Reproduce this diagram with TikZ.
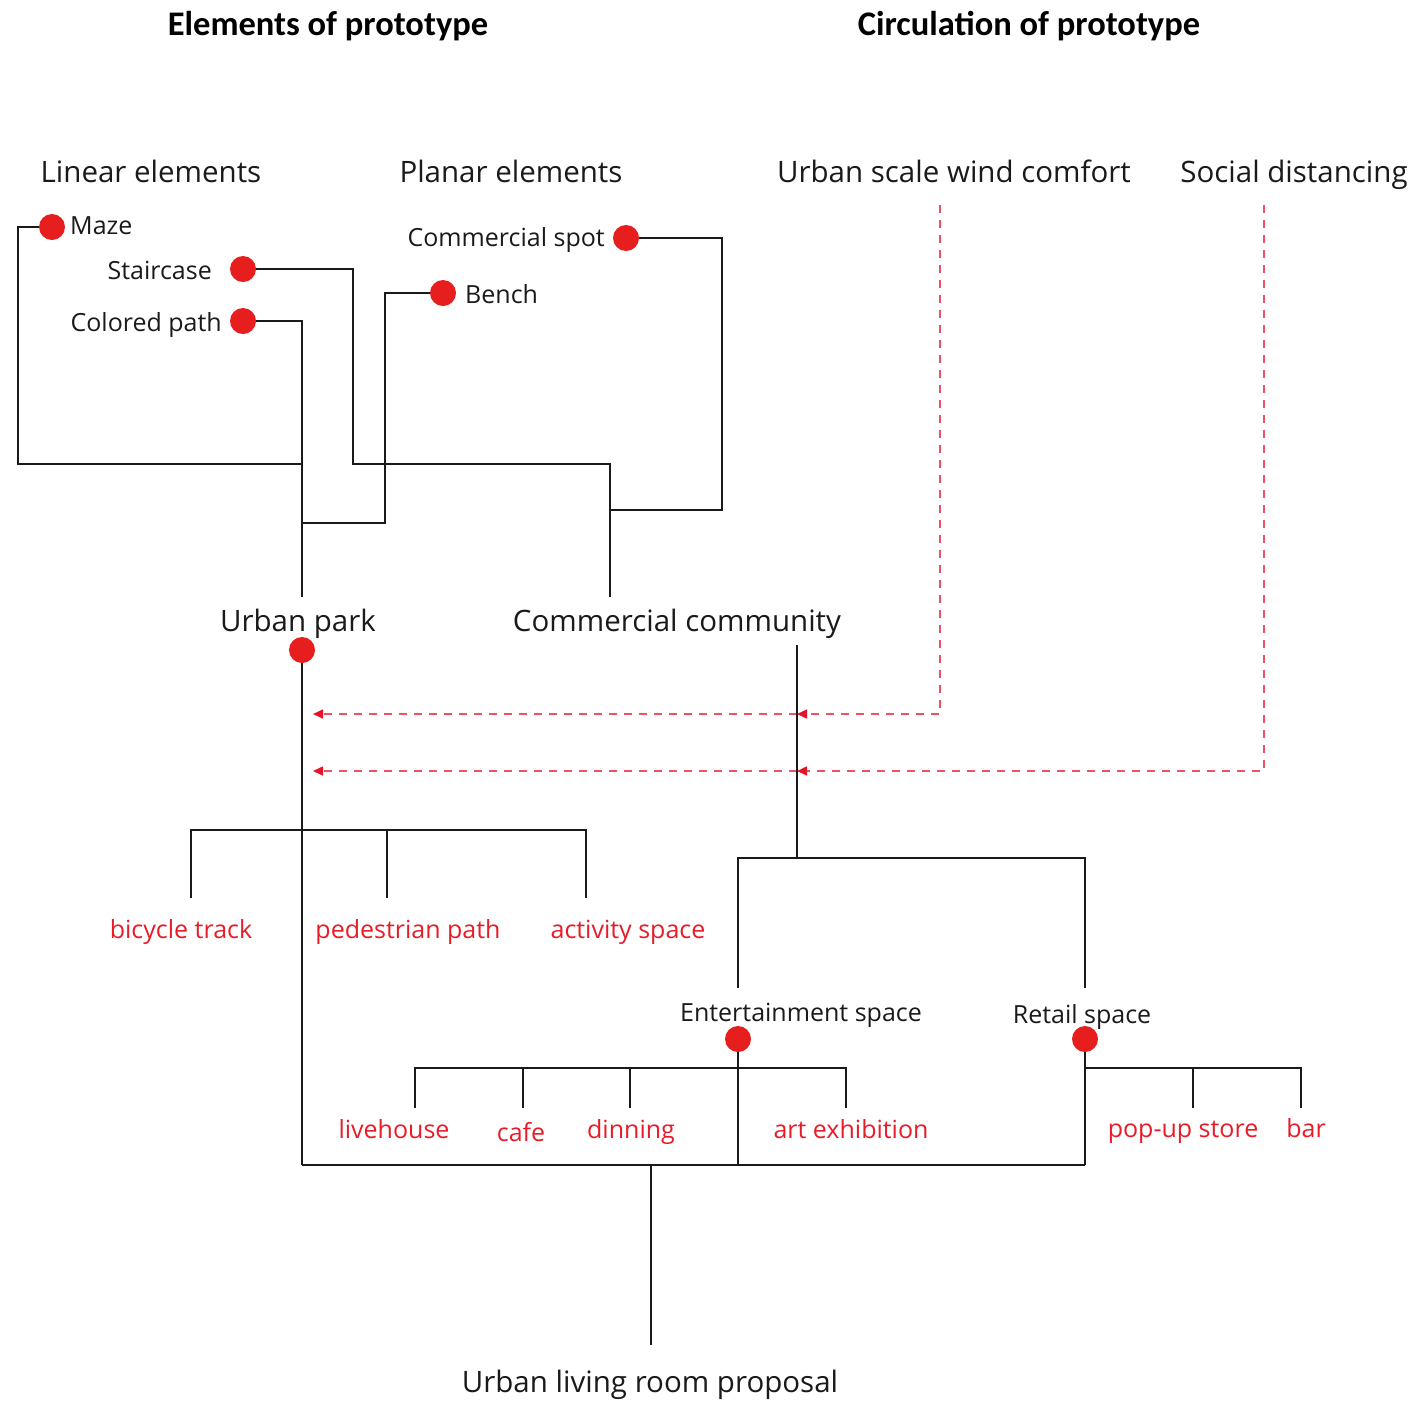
\documentclass[tikz,border=0pt]{standalone}
\usepackage{fontspec}
\setmainfont{Open Sans}
\newfontfamily\titlefont{Carlito}
\usetikzlibrary{arrows.meta}
\definecolor{ink}{RGB}{26,26,26}
\definecolor{dotred}{RGB}{230,30,30}
\definecolor{labred}{RGB}{232,28,40}
\definecolor{dashred}{RGB}{238,80,100}
\definecolor{tipred}{RGB}{230,20,40}
\tikzset{
  txt/.style={inner sep=0, text depth=0pt},
  title/.style={txt, text height=24.6pt, font=\titlefont\bfseries\fontsize{34.5}{38}\selectfont, text=black},
  big/.style={txt, text height=21.2pt, font=\fontsize{29.5}{32}\selectfont, text=ink},
  mid/.style={txt, text height=18pt, font=\fontsize{25}{28}\selectfont, text=ink},
  redlab/.style={txt, text height=18pt, font=\fontsize{25}{28}\selectfont, text=labred},
  dot/.style={circle, fill=dotred, minimum size=26, inner sep=0},
  wire/.style={draw=ink, line width=1.4},
  flow/.style={draw=dashred, line width=1.6, dash pattern=on 8 off 7,
    -{Triangle[length=10,width=9,fill=tipred,color=tipred]}}
}
\begin{document}
\begin{tikzpicture}[x=1pt,y=-1pt]
\useasboundingbox (0,0) rectangle (1418,1403);

% headings
\node[title] (t1) at (328,23) {Elements of prototype};
\node[title] (t2) at (1029,23) {Circulation of prototype};

\node[big] (lin) at (151,172) {Linear elements};
\node[big] (pla) at (511,172) {Planar elements};
\node[big] (wind) at (954,172) {Urban scale wind comfort};
\node[big] (soc) at (1294,172) {Social distancing};

% element dots and names
\node[dot] (mazedot) at (52,227) {};
\node[mid, anchor=west] (maze) at (70,225) {Maze};
\node[dot] (stairdot) at (243,269) {};
\node[mid, anchor=east] (stair) at (212,270) {Staircase};
\node[dot] (pathdot) at (243,321) {};
\node[mid, anchor=east] (cpath) at (222,322) {Colored path};
\node[dot] (spotdot) at (626,238) {};
\node[mid, anchor=east] (spot) at (605,237) {Commercial spot};
\node[dot] (benchdot) at (443,293) {};
\node[mid, anchor=west] (bench) at (465,294) {Bench};

% junction points
\coordinate (parktop) at (302,597);
\coordinate (commtop) at (610,597);
\coordinate (jmaze) at (302,464);
\coordinate (jbench) at (302,523);
\coordinate (jspot) at (610,510);

% element connectors
\draw[wire] (mazedot.west) -| (18,464) -- (jmaze);
\draw[wire] (pathdot.east) -| (parktop);
\draw[wire] (stairdot.east) -| (353,464) -| (commtop);
\draw[wire] (benchdot.west) -| (385,523) -- (jbench);
\draw[wire] (spotdot.east) -| (722,510) -- (jspot);

% prototypes
\node[big] (park) at (298,621) {Urban park};
\node[big] (comm) at (677,621) {Commercial community};
\node[dot] (parkdot) at (302,650) {};
\coordinate (commout) at (797,645);

% bottom bus
\coordinate (busL) at (302,1165);
\coordinate (busR) at (1085,1165);
\coordinate (busM) at (651,1165);
\draw[wire] (parkdot.south) -- (busL);

% circulation (dashed)
\coordinate (wm) at (797,714);
\coordinate (wl) at (313,714);
\coordinate (sm) at (797,771);
\coordinate (sl) at (313,771);
\draw[flow] (940,205) |- (wm);
\draw[flow] (wm) -- (wl);
\draw[flow] (1264,205) |- (sm);
\draw[flow] (sm) -- (sl);

% urban park branches
\draw[wire] (191,898) |- (586,830) -- (586,898);
\draw[wire] (387,830) -- (387,898);
\node[redlab] (bike) at (181,929) {bicycle track};
\node[redlab] (ped) at (408,929) {pedestrian path};
\node[redlab] (act) at (628,929) {activity space};

% commercial community branches
\draw[wire] (commout) -- (797,858);
\draw[wire] (738,988) |- (1085,858) -- (1085,988);
\node[mid] (ent) at (801,1012) {Entertainment space};
\node[mid] (ret) at (1082,1014) {Retail space};
\node[dot] (entdot) at (738,1039) {};
\node[dot] (retdot) at (1085,1039) {};

\draw[wire] (entdot.south) -- (738,1165);
\draw[wire] (415,1108) |- (846,1068) -- (846,1108);
\draw[wire] (523,1068) -- (523,1108);
\draw[wire] (630,1068) -- (630,1108);
\node[redlab] (live) at (394,1129) {livehouse};
\node[redlab] (cafe) at (521,1132) {cafe};
\node[redlab] (din) at (631,1129) {dinning};
\node[redlab] (art) at (851,1129) {art exhibition};

\draw[wire] (retdot.south) -- (busR);
\draw[wire] (1085,1068) -| (1301,1108);
\draw[wire] (1193,1068) -- (1193,1108);
\node[redlab] (pop) at (1183,1128) {pop-up store};
\node[redlab] (bar) at (1306,1128) {bar};

% final proposal
\draw[wire] (busL) -- (busR);
\draw[wire] (busM) -- (651,1345);
\node[big] (prop) at (650,1382) {Urban living room proposal};
\end{tikzpicture}
\end{document}
